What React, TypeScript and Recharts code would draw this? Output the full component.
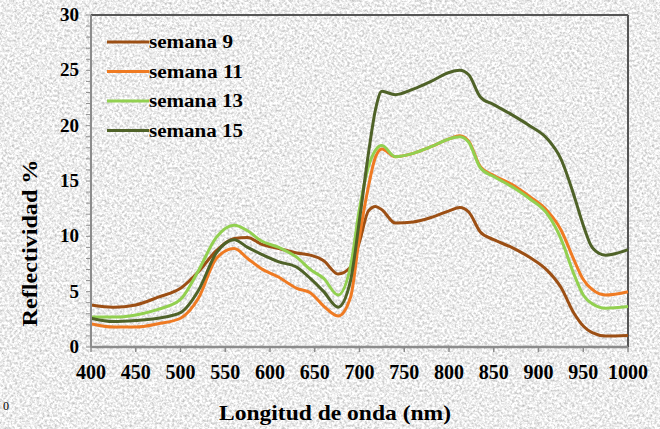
import React from "react";
import { LineChart, Line, XAxis, YAxis, ReferenceLine } from "recharts";

const wavelengths = [400, 425, 450, 475, 500, 520, 540, 560, 575, 590, 610, 630, 645, 660, 676, 690, 700, 710, 718, 725, 740, 760, 780, 800, 812, 822, 835, 850, 870, 890, 910, 925, 940, 950, 960, 975, 1000];
const semana9 = [3.8, 3.6, 3.8, 4.5, 5.3, 6.8, 8.7, 9.8, 9.9, 9.3, 8.9, 8.5, 8.3, 7.8, 6.6, 7.2, 9.5, 12.3, 12.7, 12.4, 11.2, 11.3, 11.7, 12.3, 12.6, 12.2, 10.4, 9.7, 9.0, 8.1, 6.9, 5.4, 3.0, 1.9, 1.3, 1.0, 1.05];
const semana11 = [2.1, 1.8, 1.8, 2.1, 2.6, 4.4, 8.0, 8.9, 8.0, 7.1, 6.3, 5.3, 4.9, 3.7, 2.8, 4.5, 10.0, 14.5, 17.2, 17.9, 17.2, 17.5, 18.1, 18.8, 19.1, 18.6, 16.3, 15.5, 14.7, 13.6, 12.3, 10.6, 7.8, 6.1, 5.2, 4.7, 5.0];
const semana13 = [2.7, 2.7, 2.9, 3.4, 4.3, 6.9, 9.9, 11.0, 10.5, 9.6, 9.0, 8.1, 7.0, 6.2, 4.7, 7.3, 12.5, 16.3, 17.8, 18.2, 17.2, 17.5, 18.1, 18.8, 19.0, 18.5, 16.2, 15.4, 14.5, 13.4, 12.0, 9.8, 6.5, 4.7, 3.9, 3.5, 3.65];
const semana15 = [2.6, 2.3, 2.4, 2.6, 3.1, 5.1, 8.5, 9.7, 9.0, 8.4, 7.7, 7.2, 6.2, 5.0, 3.6, 6.0, 11.5, 17.5, 21.5, 23.1, 22.8, 23.3, 24.0, 24.8, 25.0, 24.6, 22.6, 21.9, 21.0, 20.0, 18.8, 17.0, 13.6, 11.0, 9.0, 8.3, 8.8];

const xTicks = [400, 450, 500, 550, 600, 650, 700, 750, 800, 850, 900, 950, 1000];
const yTicks = Array.from({ length: 31 }, (_, i) => i);

const seriesNames = ["semana 9", "semana 11", "semana 13", "semana 15"];
const seriesKeys = ["s9", "s11", "s13", "s15"];
const seriesColors = ["#9c4f14", "#ef7a22", "#92d050", "#4f6228"];
const seriesValues = [semana9, semana11, semana13, semana15];

const data = wavelengths.map((w, i) => {
  const row: any = { wl: w };
  seriesKeys.forEach((k, j) => (row[k] = seriesValues[j][i]));
  return row;
});

const FONT = "'Liberation Serif', 'Times New Roman', serif";

const XTick = (props: any) => {
  const { x, y, payload } = props;
  return (
    <text x={x} y={y + 25} textAnchor="middle" fontFamily={FONT} fontWeight="bold" fontSize={20} fill="#000">
      {payload.value}
    </text>
  );
};

const YTick = (props: any) => {
  const { x, y, payload } = props;
  if (payload.value % 5 !== 0) return null;
  return (
    <text x={x - 5} y={y + 6} textAnchor="end" fontFamily={FONT} fontWeight="bold" fontSize={19} fill="#000">
      {payload.value}
    </text>
  );
};

export default function App() {
  return (
    <div style={{ position: "absolute", left: 0, top: 0, width: 660, height: 429, overflow: "hidden" }}>
      <svg width={660} height={429} style={{ position: "absolute", left: 0, top: 0 }}>
        <defs>
          <filter id="granite" x="0" y="0" width="100%" height="100%" colorInterpolationFilters="sRGB">
            <feTurbulence type="fractalNoise" baseFrequency="0.4" numOctaves={3} seed={7} />
            <feColorMatrix type="matrix" values="0.5 0 0 0 0.68  0.5 0 0 0 0.68  0.5 0 0 0 0.68  0 0 0 0 1" />
          </filter>
        </defs>
        <rect x={0} y={0} width={660} height={429} fill="#e8e8e8" filter="url(#granite)" />
      </svg>
      <div style={{ position: "absolute", left: 0, top: 0 }}>
        <LineChart width={660} height={429} data={data} margin={{ top: 15, right: 32, left: 0, bottom: 0 }}>
          <XAxis
            dataKey="wl"
            type="number"
            domain={[400, 1000]}
            ticks={xTicks}
            interval={0}
            tick={<XTick />}
            tickSize={5}
            tickLine={{ stroke: "#8c8c8c", strokeWidth: 1.5 }}
            axisLine={{ stroke: "#8c8c8c", strokeWidth: 2.5 }}
            height={82}
          />
          <YAxis
            type="number"
            domain={[0, 30]}
            ticks={yTicks}
            interval={0}
            tick={<YTick />}
            tickSize={5}
            tickLine={{ stroke: "#8c8c8c", strokeWidth: 1 }}
            axisLine={{ stroke: "#8c8c8c", strokeWidth: 2 }}
            width={91}
          />
          <ReferenceLine y={30} stroke="#555" strokeWidth={2} />
          <ReferenceLine x={1000} stroke="#555" strokeWidth={2} />
          {seriesKeys.map((k, i) => (
            <Line
              key={k}
              dataKey={k}
              name={seriesNames[i]}
              type="monotone"
              stroke={seriesColors[i]}
              strokeWidth={3}
              dot={false}
              isAnimationActive={false}
            />
          ))}
        </LineChart>
      </div>
      <div style={{ position: "absolute", left: 0, top: 0, pointerEvents: "none" }}>
        <svg width={660} height={429}>
          {seriesNames.map((n, i) => {
            const cy = 42 + i * 29.5;
            return (
              <g key={n}>
                <line x1={107} x2={149} y1={cy} y2={cy} stroke={seriesColors[i]} strokeWidth={3} />
                <text x={149} y={cy + 6} fontFamily={FONT} fontWeight="bold" fontSize={18} fill="#000"
                  textLength={i === 0 ? 84 : 94} lengthAdjust="spacingAndGlyphs">
                  {n}
                </text>
              </g>
            );
          })}
          <text x={335} y={420} textAnchor="middle" fontFamily={FONT} fontWeight="bold" fontSize={22} fill="#000"
            textLength={232} lengthAdjust="spacingAndGlyphs">
            Longitud de onda (nm)
          </text>
          <text x={0} y={0} transform="translate(37,243) rotate(-90)" textAnchor="middle" fontFamily={FONT}
            fontWeight="bold" fontSize={20} fill="#000" textLength={167} lengthAdjust="spacingAndGlyphs">
            Reflectividad %
          </text>
          <text x={3} y={410} fontFamily={FONT} fontSize={12} fill="#000">0</text>
        </svg>
      </div>
    </div>
  );
}
